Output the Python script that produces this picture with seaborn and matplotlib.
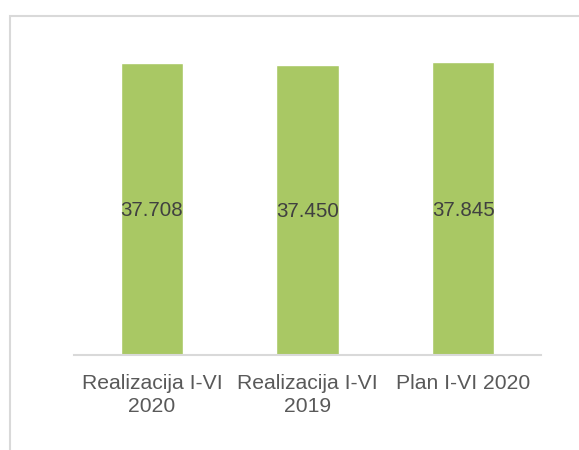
import matplotlib.pyplot as plt
import matplotlib.patches as mpatches
import pandas as pd
import seaborn as sns

categories = ["Realizacija I-VI\n2020", "Realizacija I-VI\n2019", "Plan I-VI 2020"]
values = [37708, 37450, 37845]

sns.set_style("white")
plt.rcParams['font.family'] = ['Liberation Sans', 'DejaVu Sans']

df = pd.DataFrame({"kategorija": categories, "vrijednost": values})

fig = plt.figure(figsize=(5.79, 4.5), dpi=100)
ax = fig.add_axes([0.1278, 0.2111, 0.8066, 0.6889])

sns.barplot(data=df, x="kategorija", y="vrijednost", color="#A9C864",
            width=0.4, saturation=1, ax=ax)

ax.set_ylim(0, 40000)
ax.set_xlim(-0.5, 2.5)
ax.set_xlabel("")
ax.set_ylabel("")
ax.set_yticks([])
for s in ["top", "right", "left"]:
    ax.spines[s].set_visible(False)
ax.spines["bottom"].set_color("#D9D9D9")
ax.spines["bottom"].set_linewidth(1.5)
ax.tick_params(axis="x", length=0, labelsize=15.2, colors="#595959", pad=14)
for lbl in ax.get_xticklabels():
    lbl.set_linespacing(1.25)

for i, v in enumerate(values):
    ax.text(i, v / 2, f"{v:,}".replace(",", "."), ha="center",
            va="center_baseline", fontsize=14.8, color="#404040")

# chart border (cropped)
border = mpatches.Rectangle((9.5 / 579, -0.2), 1.2, 1.2 - 15.5 / 450,
                            transform=fig.transFigure, fill=False,
                            edgecolor="#D9D9D9", linewidth=1.5)
fig.patches.append(border)

fig.savefig("out.png", dpi=100)
